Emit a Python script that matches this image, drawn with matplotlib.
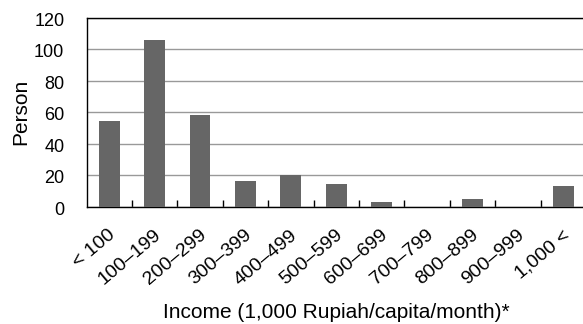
import matplotlib
matplotlib.use('Agg')
import matplotlib.pyplot as plt
import matplotlib.transforms as mtransforms
import numpy as np

plt.rcParams['font.family'] = ['Liberation Sans', 'DejaVu Sans']

categories = ['< 100', '100–199', '200–299', '300–399', '400–499', '500–599',
              '600–699', '700–799', '800–899', '900–999', '1,000 <']
persons = [54, 106, 58, 16, 20, 14, 3, 0, 5, 0, 13]

fig = plt.figure(figsize=(5.83, 3.24), dpi=100)
ax = fig.add_axes([86.5 / 583, 1 - 206.5 / 324, (586 - 86.5) / 583, (206.5 - 17.5) / 324])

x = np.arange(len(categories))
ax.bar(x, persons, width=0.46, color='#666666', zorder=3)

ax.set_xlim(-0.5, len(categories) - 0.5)
ax.set_ylim(0, 120)
ax.set_yticks(range(0, 121, 20))
ax.yaxis.grid(True, color='#999999', linewidth=1.0, zorder=0)
ax.tick_params(axis='y', length=0, pad=16, labelsize=13)
down = mtransforms.ScaledTranslation(0, -1.2 / 72, fig.dpi_scale_trans)
for lbl in ax.get_yticklabels():
    lbl.set_transform(lbl.get_transform() + down)

# category labels at centres, tick marks on the boundaries
ax.set_xticks(x)
ax.set_xticklabels(categories, rotation=40, ha='right', va='top',
                   rotation_mode='anchor', fontsize=14)
ax.tick_params(axis='x', length=0, pad=14.5)
shift = mtransforms.ScaledTranslation(-1 / 72, 0, fig.dpi_scale_trans)
for lbl in ax.get_xticklabels():
    lbl.set_transform(lbl.get_transform() + shift)
ax.set_xticks(np.arange(0.5, len(categories) - 1, 1), minor=True)
ax.tick_params(axis='x', which='minor', direction='in', length=5, width=1, color='black')

for s in ['left', 'bottom', 'top']:
    ax.spines[s].set_color('black')
    ax.spines[s].set_linewidth(1.0)
ax.spines['right'].set_visible(False)

ax.set_ylabel('Person', fontsize=15)
ax.yaxis.label.set_va('baseline')
ax.yaxis.set_label_coords(-0.121, 0.5)
ax.set_xlabel('Income (1,000 Rupiah/capita/month)*', fontsize=15)
ax.xaxis.label.set_va('baseline')
ax.xaxis.set_label_coords(0.5, -0.59)

fig.savefig('out.png', dpi=100)
